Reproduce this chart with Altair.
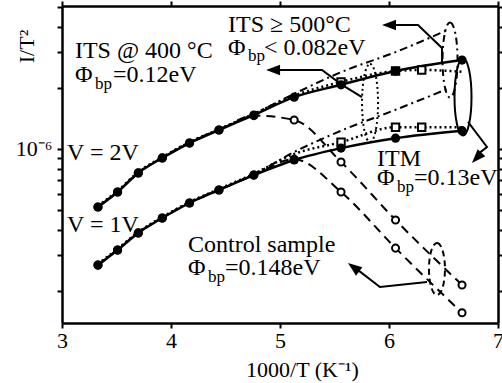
import altair as alt
import pandas as pd

FONT = "Liberation Serif"

# ---- measured data: 1000/T (K^-1) and I/T^2 --------------------------------
inv_t = [3.33, 3.51, 3.70, 3.92, 4.17, 4.44, 4.76, 5.13, 5.56, 6.06, 6.67]

# ITS @ 400 °C, solid line with filled circles
its400_2v = [5.18e-7, 6.14e-7, 7.62e-7, 9.03e-7, 1.07e-6, 1.24e-6, 1.47e-6, 1.80e-6, 2.07e-6, 2.42e-6, 2.74e-6]
its400_1v = [2.68e-7, 3.18e-7, 3.86e-7, 4.57e-7, 5.42e-7, 6.28e-7, 7.44e-7, 8.83e-7, 1.01e-6, 1.13e-6, 1.23e-6]

# ITM, dotted line; open squares where it leaves the solid curves
itm_x = [3.33, 3.51, 3.70, 3.92, 4.17, 4.44, 4.76, 5.13, 5.56, 6.06, 6.30, 6.67]
itm_2v = [5.25e-7, 6.22e-7, 7.70e-7, 9.12e-7, 1.08e-6, 1.25e-6, 1.49e-6, 1.83e-6, 2.14e-6, 2.42e-6, 2.45e-6, 2.40e-6]
itm_1v = [2.72e-7, 3.22e-7, 3.90e-7, 4.62e-7, 5.48e-7, 6.35e-7, 7.55e-7, 9.45e-7, 1.08e-6, 1.28e-6, 1.28e-6, 1.28e-6]
itm_mark_x = [5.56, 6.06, 6.30]
itm_mark_2v = [2.14e-6, 2.42e-6, 2.45e-6]
itm_mark_1v = [1.08e-6, 1.28e-6, 1.28e-6]

# ITS >= 500 °C, dash-dot line
its500_x = [3.33, 3.51, 3.70, 3.92, 4.17, 4.44, 4.76, 5.13, 5.56, 6.06, 6.54]
its500_2v = [5.22e-7, 6.18e-7, 7.66e-7, 9.08e-7, 1.08e-6, 1.25e-6, 1.49e-6, 1.87e-6, 2.39e-6, 3.00e-6, 3.86e-6]
its500_1v = [2.70e-7, 3.20e-7, 3.88e-7, 4.60e-7, 5.45e-7, 6.32e-7, 7.50e-7, 9.66e-7, 1.23e-6, 1.56e-6, 1.98e-6]

# Control sample, dashed line with open circles
ctrl_2v = [5.18e-7, 6.14e-7, 7.62e-7, 9.03e-7, 1.07e-6, 1.24e-6, 1.46e-6, 1.39e-6, 8.63e-7, 4.47e-7, 2.14e-7]
ctrl_1v = [2.68e-7, 3.18e-7, 3.86e-7, 4.57e-7, 5.42e-7, 6.28e-7, 7.44e-7, 8.90e-7, 6.14e-7, 3.25e-7, 1.56e-7]

# axis settings
x_domain = [3, 7]
y_domain = [1.39e-7, 5.06e-6]
x_ticks = [3, 4, 5, 6, 7]
y_ticks = [2e-7, 3e-7, 4e-7, 5e-7, 6e-7, 7e-7, 8e-7, 9e-7, 1e-6, 2e-6, 3e-6, 4e-6, 5e-6]

# ---- annotation geometry (data units) --------------------------------------
arrow_paths = {
    "its400": [(5.752, 1.80e-6), (5.569, 2.07e-6), (5.385, 2.45e-6), (4.95, 2.45e-6)],
    "its500": [(6.486, 2.65e-6), (6.486, 3.145e-6), (6.266, 4.08e-6), (6.02, 4.08e-6)],
    "itm": [(6.725, 1.36e-6), (6.899, 1.023e-6), (6.80, 9.3e-7)],
    "ctrl": [(6.349, 2.21e-7), (5.917, 2.09e-7), (5.68, 2.62e-7)],
}
arrow_tips_x = [4.872, 5.936, 6.761, 5.624]
arrow_tips_y = [2.45e-6, 4.08e-6, 8.53e-7, 2.744e-7]
arrow_tips_angle = [0, 0, 313, 37]

# ellipses: centre x, centre y, width px, height px, dash
ellipses = [
    (5.826, 1.685e-6, 16, 78, [2, 3]),
    (6.679, 1.804e-6, 17, 77, None),
    (6.560, 2.744e-6, 15, 75, [7, 4, 2, 4]),
    (6.440, 2.564e-7, 16, 52, [6, 4]),
]

# rich labels: anchor x, anchor y, pieces (text, dx, dy, size)
labels = [
    (3.119, 2.81e-6, [("ITS @ 400 °C", 0, 0, 24)]),
    (3.119, 2.14e-6, [("Φ", 0, 0, 24), ("bp", 20, 7, 17), ("=0.12eV", 38, 0, 24)]),
    (4.523, 3.77e-6, [("ITS ≥ 500°C", 0, 0, 24)]),
    (4.523, 2.90e-6, [("Φ", 0, 0, 24), ("bp", 20, 6, 17), ("< 0.082eV", 36, 0, 24)]),
    (3.046, 8.83e-7, [("V = 2V", 0, 0, 24)]),
    (3.046, 3.90e-7, [("V = 1V", 0, 0, 24)]),
    (5.890, 8.25e-7, [("ITM", 0, 0, 24)]),
    (5.890, 6.65e-7, [("Φ", 0, 0, 24), ("bp", 20, 7, 17), ("=0.13eV", 37, 0, 24)]),
    (4.156, 3.11e-7, [("Control sample", 0, 0, 24)]),
    (4.156, 2.39e-7, [("Φ", 0, 0, 24), ("bp", 20, 7, 17), ("=0.148eV", 37, 0, 24)]),
]

# ---- encodings --------------------------------------------------------------
axis_common = dict(
    grid=False, tickColor="black", tickWidth=2, tickSize=5,
    domainColor="black", domainWidth=2.5,
    labelFont=FONT, labelFontSize=22, labelColor="black",
    titleFont=FONT, titleFontSize=22, titleFontWeight="normal", titleColor="black",
)

x_axis = alt.Axis(
    values=x_ticks, format="d", labelPadding=2, labelFlush=False, labelOverlap=False,
    title="1000/T (K⁻¹)", titleX=240, titleY=53, titleAlign="center",
    titleBaseline="alphabetic", **axis_common,
)
y_axis = alt.Axis(
    values=y_ticks, labelExpr="abs(datum.value - 1e-6) < 1e-9 ? '10⁻⁶' : ''",
    labelPadding=5, labelOverlap=False, labelFlush=False,
    title="I/T²", titleAngle=270, titleX=-36, titleY=40, titleAlign="center",
    titleBaseline="middle", **axis_common,
)


def X(field="x"):
    return alt.X(f"{field}:Q", scale=alt.Scale(domain=x_domain, nice=False, zero=False), axis=x_axis)


def Y(field="y"):
    return alt.Y(f"{field}:Q", scale=alt.Scale(type="log", domain=y_domain, nice=False), axis=y_axis)


def frame(xs, ys):
    return pd.DataFrame({"x": xs, "y": ys})


def line(xs, ys, dash=None, width=2.5):
    kw = dict(color="black", strokeWidth=width, interpolate="monotone", clip=True)
    if dash:
        kw["strokeDash"] = dash
    return alt.Chart(frame(xs, ys)).mark_line(**kw).encode(x=X(), y=Y())


layers = []

# curves
for ys in (ctrl_2v, ctrl_1v):
    layers.append(line(inv_t, ys, dash=[9, 6], width=2))
for ys in (its500_2v, its500_1v):
    layers.append(line(its500_x, ys, dash=[8, 4, 2, 4], width=2))
for ys in (itm_2v, itm_1v):
    layers.append(line(itm_x, ys, dash=[2, 3], width=2.5))
for ys in (its400_2v, its400_1v):
    layers.append(line(inv_t, ys, width=2.5))

# markers
for ys in (ctrl_2v, ctrl_1v):
    layers.append(
        alt.Chart(frame(inv_t, ys)).mark_point(
            shape="circle", size=50, fill="white", stroke="black", strokeWidth=2, opacity=1, filled=False
        ).encode(x=X(), y=Y())
    )
for ys in (itm_mark_2v, itm_mark_1v):
    layers.append(
        alt.Chart(frame(itm_mark_x, ys)).mark_point(
            shape="square", size=55, fill="white", stroke="black", strokeWidth=2, opacity=1, filled=False
        ).encode(x=X(), y=Y())
    )
for ys in (its400_2v, its400_1v):
    layers.append(
        alt.Chart(frame(inv_t, ys)).mark_point(
            shape="circle", size=85, filled=True, color="black", opacity=1
        ).encode(x=X(), y=Y())
    )

# ellipses drawn as custom symbols (bezier ellipse in unit box)
K = 0.5523
for cx, cy, w, h, dash in ellipses:
    a = w / h
    path = (
        f"M0,-1 C{K*a:.4f},-1 {a:.4f},{-K} {a:.4f},0 "
        f"C{a:.4f},{K} {K*a:.4f},1 0,1 "
        f"C{-K*a:.4f},1 {-a:.4f},{K} {-a:.4f},0 "
        f"C{-a:.4f},{-K} {-K*a:.4f},-1 0,-1 Z"
    )
    kw = dict(shape=path, size=h * h, filled=False, color="black", strokeWidth=2, opacity=1)
    if dash:
        kw["strokeDash"] = dash
    layers.append(alt.Chart(frame([cx], [cy])).mark_point(**kw).encode(x=X(), y=Y()))

# arrow shafts
rows = []
for name, pts in arrow_paths.items():
    for i, (px, py) in enumerate(pts):
        rows.append({"id": name, "i": i, "x": px, "y": py})
layers.append(
    alt.Chart(pd.DataFrame(rows)).mark_line(color="black", strokeWidth=2).encode(
        x=X(), y=Y(), detail="id:N", order="i:Q"
    )
)

# arrow heads (tip at the symbol origin, pointing left before rotation)
heads = pd.DataFrame({"x": arrow_tips_x, "y": arrow_tips_y, "ang": arrow_tips_angle})
layers.append(
    alt.Chart(heads).mark_point(
        shape="M0,0 L2,-0.75 L2,0.75 Z", size=196, filled=True, color="black", opacity=1
    ).encode(x=X(), y=Y(), angle=alt.Angle("ang:Q", scale=None))
)

# text labels
for ax, ay, parts in labels:
    for txt, dx, dy, size in parts:
        layers.append(
            alt.Chart(frame([ax], [ay])).mark_text(
                text=txt, align="left", baseline="alphabetic", dx=dx, dy=dy,
                font=FONT, fontSize=size, color="black"
            ).encode(x=X(), y=Y())
        )

main = alt.layer(*layers)

# mirrored top/right axes (ticks only)
mirror = alt.Chart(frame([3.5], [1e-6])).mark_point(opacity=0).encode(
    x=alt.X("x:Q", scale=alt.Scale(domain=x_domain, nice=False, zero=False),
            axis=alt.Axis(orient="top", values=x_ticks, labels=False, title=None,
                          grid=False, tickColor="black", tickWidth=2, tickSize=5,
                          domainColor="black", domainWidth=2.5)),
    y=alt.Y("y:Q", scale=alt.Scale(type="log", domain=y_domain, nice=False),
            axis=alt.Axis(orient="right", values=y_ticks, labels=False, title=None,
                          grid=False, tickColor="black", tickWidth=2, tickSize=5,
                          domainColor="black", domainWidth=2.5)),
)

chart = (
    alt.layer(main, mirror)
    .resolve_scale(x="independent", y="independent")
    .properties(
        width=436, height=317,
        autosize=alt.AutoSizeParams(type="none"),
        padding={"left": 62, "top": 6, "right": 4, "bottom": 60},
        background="white",
    )
    .configure_view(stroke=None)
)

chart.save("out.html", embed_options={"renderer": "svg", "actions": False})
